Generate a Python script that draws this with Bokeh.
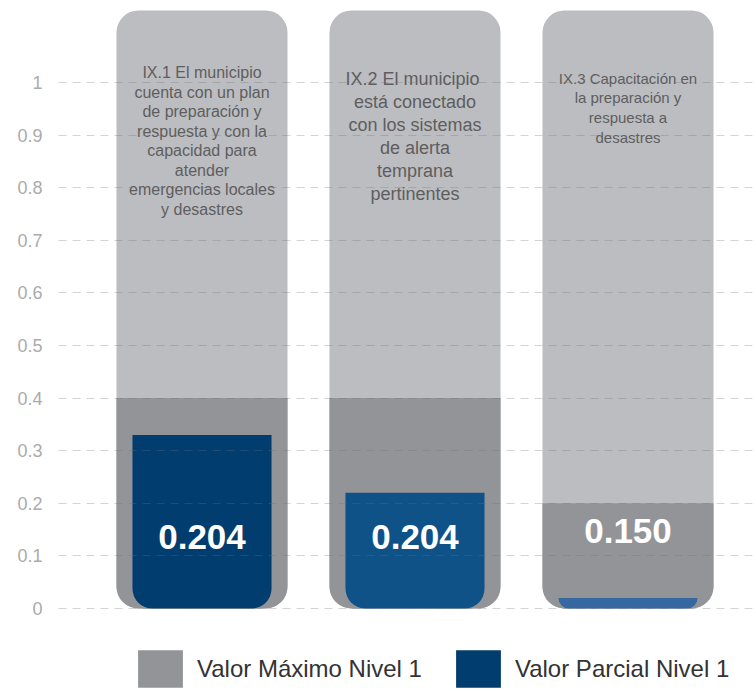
from bokeh.plotting import figure
from bokeh.models import ColumnDataSource, Range1d, FixedTicker, Legend, LegendItem
from bokeh.core.properties import value
from bokeh.embed import file_html
from bokeh.resources import INLINE

# ---------------- data ----------------
categories = ["IX.1", "IX.2", "IX.3"]
descriptions = [
    "IX.1 El municipio\ncuenta con un plan\nde preparación y\nrespuesta y con la\ncapacidad para\natender\nemergencias locales\ny desastres",
    "IX.2  El municipio\nestá conectado\ncon los sistemas\nde alerta\ntemprana\npertinentes",
    "IX.3 Capacitación en\nla preparación y\nrespuesta a\ndesastres",
]
max_values = [0.4, 0.4, 0.2]
partial_values = [0.33, 0.22, 0.02]
value_labels = ["0.204", "0.204", "0.150"]
tick_values = [0, 0.1, 0.2, 0.3, 0.4, 0.5, 0.6, 0.7, 0.8, 0.9, 1]
tick_labels = ["0", "0.1", "0.2", "0.3", "0.4", "0.5", "0.6", "0.7", "0.8", "0.9", "1"]
series_names = ["Valor Máximo Nivel 1", "Valor Parcial Nivel 1"]

# ---------------- styles / layout ----------------
partial_colors = ["#023d6f", "#0f5287", "#3567a0"]
desc_sizes = ["16px", "18px", "15px"]
desc_top = [1.035, 1.026, 1.024]
label_y = [0.135, 0.135, 0.148]
track_top = 1.137

x = list(range(1, len(categories) + 1))
src = ColumnDataSource(dict(
    x=x, cat=categories, desc=descriptions, maxv=max_values, part=partial_values,
    lab=value_labels, color=partial_colors, dsize=desc_sizes, dtop=desc_top,
    laby=label_y, track=[track_top] * len(categories),
))

p = figure(width=756, height=692,
           x_range=Range1d(0.3263, 3.6033), y_range=Range1d(-0.1597, 1.1559),
           output_backend="svg", toolbar_location=None,
           min_border_left=58, min_border_right=0, min_border_top=0, min_border_bottom=0)
p.outline_line_color = None
p.background_fill_color = "white"
p.xaxis.visible = False
p.xgrid.visible = False

p.vbar(x="x", top="track", bottom=0, width=0.803, source=src,
       fill_color="#bcbdc1", line_color=None, border_radius=22)
r_max = p.vbar(x="x", top="maxv", bottom=0, width=0.803, source=src,
               fill_color="#939498", line_color=None, border_radius=(0, 0, 22, 22))
r_part = p.vbar(x="x", top="part", bottom=0, width=0.653, source=src,
                fill_color="color", line_color=None, border_radius=(0, 0, 20, 20))

p.text(x="x", y="dtop", text="desc", source=src, text_align="center", text_baseline="top",
       text_font=value("Liberation Sans"), text_font_size="dsize", text_color="#5e5e5e",
       text_line_height=1.15)
p.text(x="x", y="laby", text="lab", source=src, text_align="center", text_baseline="middle",
       text_font=value("Liberation Sans"), text_font_style="bold", text_font_size="35px",
       text_color="white")

yax = p.yaxis[0]
yax.ticker = FixedTicker(ticks=tick_values)
yax.major_label_overrides = {v: l for v, l in zip(tick_values, tick_labels)}
yax.axis_line_color = None
yax.major_tick_line_color = None
yax.minor_tick_line_color = None
yax.major_tick_out = 0
yax.major_label_standoff = 16
yax.major_label_text_font = "Liberation Sans"
yax.major_label_text_font_size = "18px"
yax.major_label_text_color = "#ababab"

g = p.ygrid[0]
g.ticker = FixedTicker(ticks=tick_values)
g.grid_line_color = "#707070"
g.grid_line_alpha = 0.3
g.grid_line_dash = "8 6"
g.grid_line_width = 1
g.level = "overlay"

legend = Legend(items=[
    LegendItem(label=series_names[0], renderers=[r_max], index=0),
    LegendItem(label=series_names[1], renderers=[r_part], index=0),
], location=(74, 0), orientation="horizontal", glyph_width=56, glyph_height=47,
    label_standoff=9, spacing=28, padding=0, margin=0, border_line_color=None,
    background_fill_alpha=0, label_text_font="Liberation Sans",
    label_text_font_size="24px", label_text_color="#333333", label_height=47)
p.add_layout(legend)

open("out.html", "w").write(file_html(p, INLINE))
